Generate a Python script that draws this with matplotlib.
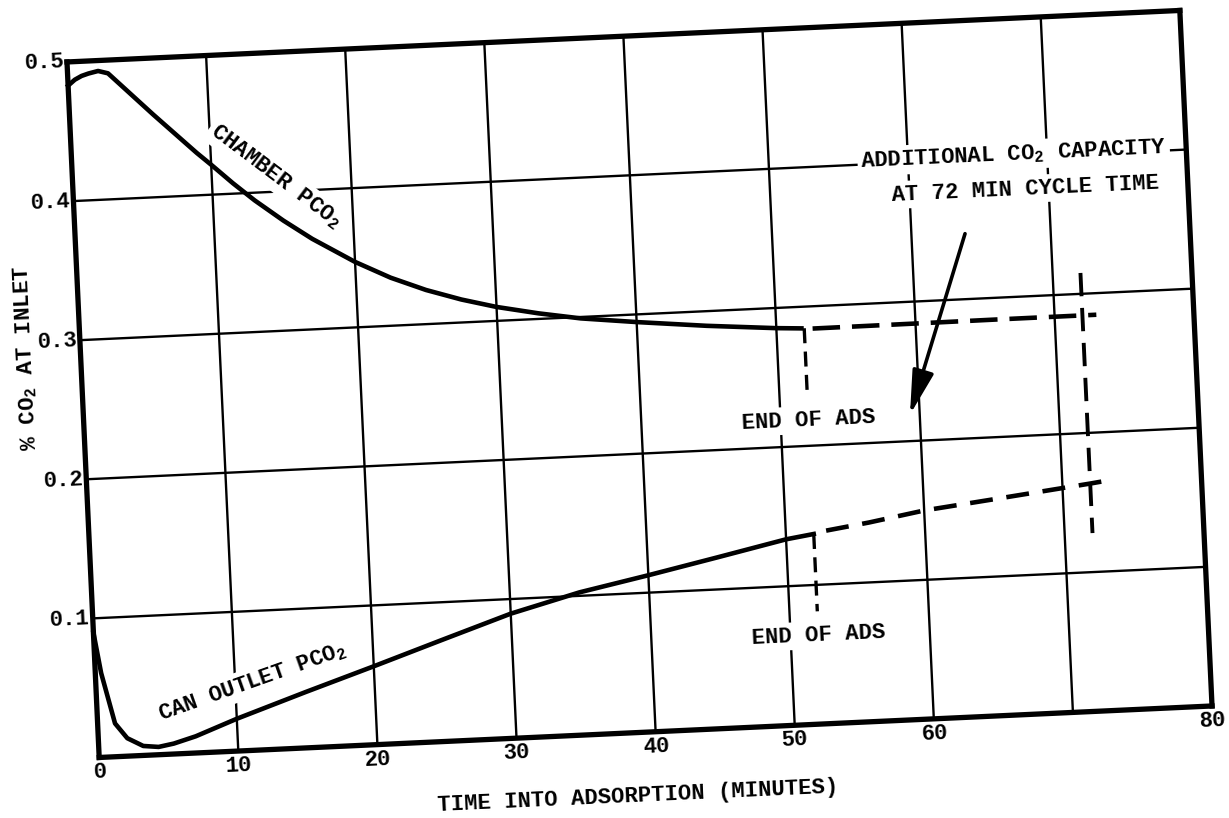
import matplotlib
matplotlib.use("Agg")
import matplotlib.pyplot as plt
from matplotlib.transforms import Affine2D
import mpl_toolkits.axisartist.floating_axes as floating_axes
from mpl_toolkits.axisartist.grid_finder import FixedLocator, DictFormatter

plt.rcParams['font.family'] = ['Liberation Mono', 'DejaVu Sans Mono']
plt.rcParams['font.weight'] = 'bold'
plt.rcParams['mathtext.fontset'] = 'custom'
plt.rcParams['mathtext.rm'] = 'Liberation Mono:bold'
plt.rcParams['mathtext.it'] = 'Liberation Mono:bold'
plt.rcParams['mathtext.bf'] = 'Liberation Mono:bold'

# ---------------- data ----------------
x_ticks = [0, 10, 20, 30, 40, 50, 60, 70, 80]
x_tick_labels = ["0", "10", "20", "30", "40", "50", "60", "", "80"]
y_ticks = [0.0, 0.1, 0.2, 0.3, 0.4, 0.5]
y_tick_labels = ["", "0.1", "0.2", "0.3", "0.4", "0.5"]

chamber_t = [0, 0.5, 1, 1.5, 2.2, 2.9, 4, 5, 6, 7.5, 9, 10, 11.5, 13, 15, 17,
             20, 22.5, 25, 27.5, 30, 33, 36, 40, 45, 50, 51.8]
chamber_pco2 = [0.483, 0.487, 0.4895, 0.491, 0.4925, 0.4905, 0.4795, 0.4695,
                0.4595, 0.445, 0.4305, 0.4215, 0.4075, 0.3945, 0.379, 0.365,
                0.347, 0.3345, 0.3245, 0.3165, 0.310, 0.304, 0.299, 0.2945,
                0.2895, 0.2855, 0.2845]

can_t = [0, 0.42, 1.25, 2.08, 3.2, 4.3, 5.4, 7, 10, 15, 20, 25, 30, 35, 40,
         45, 50, 52]
can_pco2 = [0.0898, 0.0605, 0.0239, 0.0129, 0.0068, 0.0056, 0.0075, 0.012,
            0.0232, 0.040, 0.0563, 0.073, 0.0895, 0.1025, 0.1125, 0.123,
            0.1337, 0.1366]

end_ads_t = [52, 52]
chamber_drop = [0.2845, 0.235]
can_drop = [0.1366, 0.081]

chamber_ext_t = [52.6, 60, 66, 73.0]
chamber_ext_pco2 = [0.284, 0.2842, 0.2844, 0.2845]
can_ext_t = [52.9, 56, 60, 65, 72, 73.1]
can_ext_pco2 = [0.1386, 0.143, 0.1498, 0.1555, 0.1636, 0.165]

cycle_t = [72, 72]
cycle_range = [0.315, 0.128]

# ---------------- figure / rotated axes ----------------
ANGLE = 2.65          # the scanned sheet is tilted
YSCALE = 100.0        # 0.1 -> 10 units: square grid cells
tr = Affine2D().scale(1.0, YSCALE).rotate_deg(ANGLE)

grid_helper = floating_axes.GridHelperCurveLinear(
    tr, extremes=(0, 80, 0, 0.5),
    grid_locator1=FixedLocator(x_ticks),
    tick_formatter1=DictFormatter(dict(zip(x_ticks, x_tick_labels))),
    grid_locator2=FixedLocator(y_ticks),
    tick_formatter2=DictFormatter(dict(zip(y_ticks, y_tick_labels))))

fig = plt.figure(figsize=(12.29, 8.18), dpi=100)
fig.patch.set_facecolor('white')
ax = fig.add_axes([0.0452, 0.0642, 0.9503, 0.9328],
                  axes_class=floating_axes.FloatingAxes,
                  grid_helper=grid_helper)
ax.grid(True, color='black', linewidth=1.7)
for side in ["left", "right", "bottom", "top"]:
    ax.axis[side].line.set_linewidth(3.8)
    ax.axis[side].toggle(ticks=False)
    ax.axis[side].major_ticklabels.set_fontsize(16)
    ax.axis[side].major_ticklabels.set_fontweight('bold')
ax.axis["bottom"].major_ticklabels.set_pad(4)
ax.axis["left"].major_ticklabels.set_pad(2)

aux = ax.get_aux_axes(tr)

lw = 3.3
aux.plot(chamber_t, chamber_pco2, color='black', lw=lw, zorder=4,
         solid_joinstyle='round')
aux.plot(can_t, can_pco2, color='black', lw=lw, zorder=4,
         solid_joinstyle='round')
aux.plot(end_ads_t, chamber_drop, color='black', lw=2.4,
         ls=(0, (4.5, 2.5)), zorder=4)
aux.plot(end_ads_t, can_drop, color='black', lw=2.4,
         ls=(0, (4.5, 2.5)), zorder=4)
aux.plot(chamber_ext_t, chamber_ext_pco2, color='black', lw=lw,
         ls=(0, (6, 2.6)), zorder=4)
aux.plot(can_ext_t, can_ext_pco2, color='black', lw=lw,
         ls=(0, (5, 3)), zorder=4)
aux.plot(cycle_t, cycle_range, color='black', lw=2.8,
         ls=(0, (6, 3)), zorder=4)

aux.annotate("", xy=(59.3, 0.219), xytext=(63.85, 0.347),
             arrowprops=dict(arrowstyle="-|>,head_length=0.9,head_width=0.22",
                             color='black', lw=2.6, mutation_scale=30,
                             shrinkA=0, shrinkB=0), zorder=5)

box = dict(boxstyle='square,pad=0.15', fc='white', ec='none')
fs = 16
aux.text(14.6, 0.411, r"CHAMBER PCO$_2$", rotation=-37, fontsize=fs,
         ha='center', va='center', rotation_mode='anchor', bbox=box, zorder=3)
aux.text(11.25, 0.049, r"CAN OUTLET PCO$_2$", rotation=19.5, fontsize=fs,
         ha='center', va='center', rotation_mode='anchor', bbox=box, zorder=3)
aux.text(67.6, 0.402, r"ADDITIONAL CO$_2$ CAPACITY", rotation=ANGLE,
         fontsize=fs, ha='center', va='center', rotation_mode='anchor',
         bbox=box, zorder=3)
aux.text(68.35, 0.377, "AT 72 MIN CYCLE TIME", rotation=ANGLE, fontsize=fs,
         ha='center', va='center', rotation_mode='anchor', bbox=box, zorder=3)
aux.text(52.0, 0.2186, "END OF ADS", rotation=ANGLE, fontsize=fs,
         ha='center', va='center', rotation_mode='anchor', bbox=box, zorder=3)
aux.text(52.0, 0.0639, "END OF ADS", rotation=ANGLE, fontsize=fs,
         ha='center', va='center', rotation_mode='anchor', bbox=box, zorder=3)
aux.text(38.5, -0.046, "TIME INTO ADSORPTION (MINUTES)", rotation=ANGLE,
         fontsize=fs, ha='center', va='center', rotation_mode='anchor',
         clip_on=False)
aux.text(-3.9, 0.289, r"% CO$_2$ AT INLET", rotation=90 + ANGLE, fontsize=fs,
         ha='center', va='center', rotation_mode='anchor', clip_on=False)

fig.savefig("out.png", dpi=100, facecolor='white')
